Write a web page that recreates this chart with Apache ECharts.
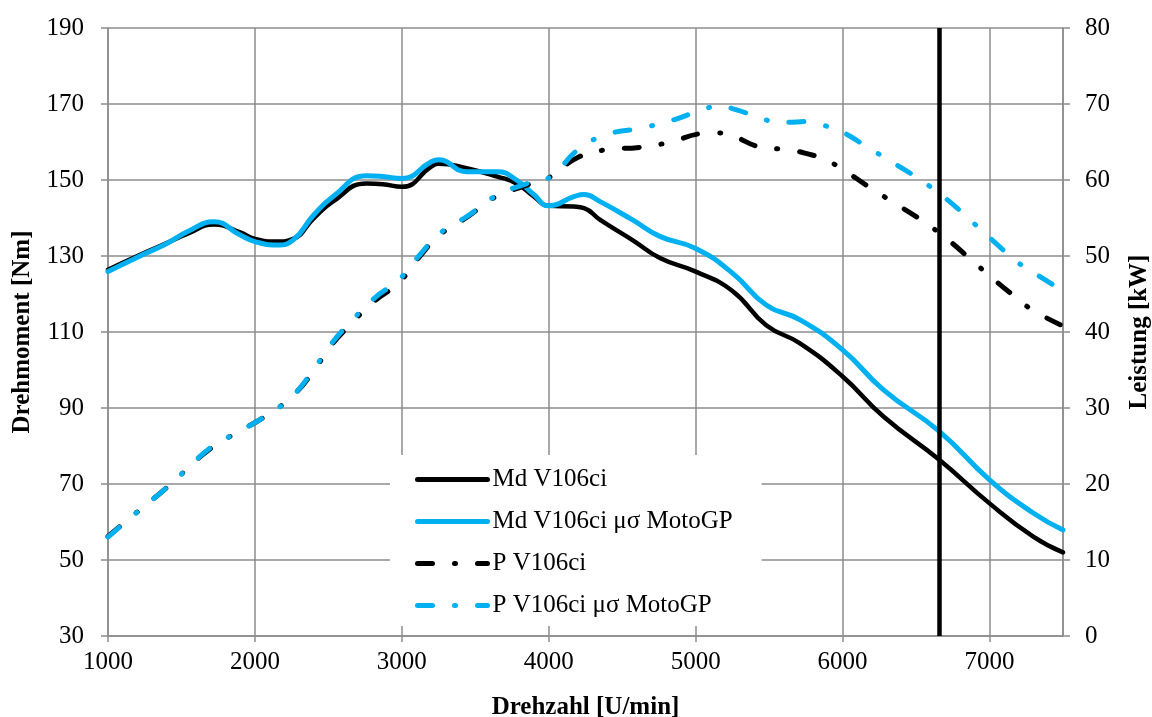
<!DOCTYPE html>
<html>
<head>
<meta charset="utf-8">
<script src="https://cdn.jsdelivr.net/npm/echarts@6/dist/echarts.min.js"></script>
<style>
  html, body { margin: 0; padding: 0; background: #fff; }
  #chart { width: 1152px; height: 717px; }
</style>
</head>
<body>
<div id="chart"></div>
<script>
// Drehmoment (Nm) über Drehzahl (U/min)
const rpmTorque = [1000, 1200, 1400, 1550, 1720, 1900, 2000, 2150, 2260, 2400, 2530, 2760, 2870, 3000, 3200, 3250, 3440, 3650, 3780, 3900, 4000, 4170, 4240, 4350, 4570, 4760, 5000, 5250, 5480, 5710, 6000, 6280, 6660, 7000, 7300, 7500];
const mdV106ci = [126.4, 130.0, 133.4, 136.0, 138.3, 136.2, 134.5, 133.8, 134.5, 139.9, 144.3, 149.1, 148.9, 148.2, 153.5, 154.3, 153.1, 150.9, 149.1, 145.6, 143.2, 143.0, 142.6, 139.5, 134.2, 129.4, 125.9, 120.8, 111.8, 107.0, 98.3, 87.7, 76.3, 64.9, 56.1, 52.0];
const mdMotoGP = [125.9, 129.7, 133.3, 136.6, 139.0, 135.5, 133.8, 132.9, 134.2, 140.8, 145.6, 151.1, 150.9, 150.4, 154.8, 155.3, 152.2, 152.2, 150.0, 146.1, 143.2, 145.6, 146.2, 144.3, 139.5, 135.1, 132.0, 125.5, 117.1, 113.2, 105.3, 94.7, 83.8, 71.1, 62.3, 57.9];

// Leistung (kW) über Drehzahl (U/min)
const rpmPower = [1000, 1210, 1380, 1540, 1700, 1890, 2070, 2250, 2390, 2510, 2660, 2810, 2980, 3120, 3260, 3450, 3630, 3830, 4010, 4200, 4400, 4620, 4830, 5040, 5150, 5250, 5450, 5560, 5660, 5770, 5870, 6000, 6170, 6350, 6530, 6700, 6870, 7030, 7190, 7300, 7500];
const pV106ci = [13.1, 16.5, 19.2, 22.0, 24.7, 26.9, 28.9, 31.5, 34.6, 38.0, 41.2, 44.0, 46.5, 49.9, 52.8, 55.2, 57.7, 59.2, 60.4, 63.0, 64.0, 64.3, 65.0, 66.1, 66.2, 65.8, 64.3, 64.1, 63.9, 63.4, 62.8, 61.4, 59.2, 57.0, 54.8, 52.4, 49.6, 46.9, 44.4, 42.8, 40.8];
const pMotoGP = [13.0, 16.5, 19.2, 22.0, 24.8, 26.9, 28.9, 31.5, 34.8, 38.2, 41.5, 44.4, 46.9, 50.1, 53.0, 55.3, 57.8, 59.4, 60.4, 64.0, 66.0, 66.8, 67.8, 69.2, 69.7, 69.4, 68.1, 67.6, 67.6, 67.7, 67.2, 66.3, 64.3, 62.2, 60.0, 57.6, 54.7, 51.9, 49.2, 47.8, 45.4];

// Markierte Drehzahl (senkrechte Linie)
const markRpm = 6660;

// Achsen
const xMin = 1000, xMax = 7500, xStep = 1000;
const yLeftMin = 30, yLeftMax = 190, yLeftStep = 20;
const yRightMin = 0, yRightMax = 80, yRightStep = 10;

const seriesNames = ['Md V106ci', 'Md V106ci \u03bc\u03c3 MotoGP', 'P V106ci', 'P V106ci \u03bc\u03c3 MotoGP'];

const BLACK = '#000000';
const BLUE = '#00B0F0';
const GRID = '#8c8c8c';
const FONT = "'Liberation Serif', 'Times New Roman', serif";
const DASHDOT = [15, 22, 1, 22];

const zip = (xs, ys) => xs.map((x, i) => [x, ys[i]]);
const plain = v => String(v);

const chart = echarts.init(document.getElementById('chart'), null, { renderer: 'canvas' });

chart.setOption({
  animation: false,
  backgroundColor: '#ffffff',
  textStyle: { fontFamily: FONT },
  grid: { left: 108, right: 89, top: 28, bottom: 81, containLabel: false, outerBoundsMode: 'none' },
  legend: {
    orient: 'vertical',
    left: 390,
    top: 455,
    backgroundColor: '#ffffff',
    padding: [12, 29, 8, 25],
    itemWidth: 70,
    itemHeight: 14,
    itemGap: 17,
    lineStyle: { width: 5, cap: 'round' },
    itemStyle: { opacity: 0 },
    textStyle: { fontFamily: FONT, fontSize: 25, color: '#000' },
    data: seriesNames,
    z: 10
  },
  xAxis: {
    type: 'value',
    min: xMin, max: xMax, interval: xStep,
    name: 'Drehzahl [U/min]',
    nameLocation: 'middle',
    nameGap: 59,
    nameTextStyle: { fontFamily: FONT, fontSize: 25, fontWeight: 'bold', color: '#000' },
    axisLine: { show: true, lineStyle: { color: GRID, width: 1.5 } },
    axisTick: { show: true, length: 6, inside: false, lineStyle: { color: GRID, width: 1.5 } },
    axisLabel: { fontFamily: FONT, fontSize: 25, color: '#000', margin: 14, showMaxLabel: false, formatter: plain },
    splitLine: { show: true, lineStyle: { color: GRID, width: 1.5 } }
  },
  yAxis: [
    {
      type: 'value',
      position: 'left',
      min: yLeftMin, max: yLeftMax, interval: yLeftStep,
      name: 'Drehmoment [Nm]',
      nameLocation: 'middle',
      nameRotate: 90,
      nameGap: 73,
      nameTextStyle: { fontFamily: FONT, fontSize: 25, fontWeight: 'bold', color: '#000' },
      axisLine: { show: true, lineStyle: { color: GRID, width: 1.5 } },
      axisTick: { show: true, length: 7, lineStyle: { color: GRID, width: 1.5 } },
      axisLabel: { fontFamily: FONT, fontSize: 25, color: '#000', margin: 24, formatter: plain },
      splitLine: { show: true, lineStyle: { color: GRID, width: 1.5 } }
    },
    {
      type: 'value',
      position: 'right',
      min: yRightMin, max: yRightMax, interval: yRightStep,
      name: 'Leistung [kW]',
      nameLocation: 'middle',
      nameRotate: 90,
      nameGap: 64,
      nameTextStyle: { fontFamily: FONT, fontSize: 25, fontWeight: 'bold', color: '#000' },
      axisLine: { show: true, lineStyle: { color: GRID, width: 1.5 } },
      axisTick: { show: true, length: 7, lineStyle: { color: GRID, width: 1.5 } },
      axisLabel: { fontFamily: FONT, fontSize: 25, color: '#000', margin: 22, formatter: plain },
      splitLine: { show: false }
    }
  ],
  series: [
    {
      name: seriesNames[0],
      type: 'line',
      yAxisIndex: 0,
      data: zip(rpmTorque, mdV106ci),
      smooth: 0.5,
      symbol: 'none',
      lineStyle: { color: BLACK, width: 4.5, cap: 'round' },
      itemStyle: { color: BLACK },
      z: 2
    },
    {
      name: seriesNames[1],
      type: 'line',
      yAxisIndex: 0,
      data: zip(rpmTorque, mdMotoGP),
      smooth: 0.5,
      symbol: 'none',
      lineStyle: { color: BLUE, width: 5, cap: 'round' },
      itemStyle: { color: BLUE },
      z: 3
    },
    {
      name: seriesNames[2],
      type: 'line',
      yAxisIndex: 1,
      data: zip(rpmPower, pV106ci),
      smooth: 0.5,
      symbol: 'none',
      lineStyle: { color: BLACK, width: 5, type: DASHDOT, cap: 'round' },
      itemStyle: { color: BLACK },
      z: 4
    },
    {
      name: seriesNames[3],
      type: 'line',
      yAxisIndex: 1,
      data: zip(rpmPower, pMotoGP),
      smooth: 0.5,
      symbol: 'none',
      lineStyle: { color: BLUE, width: 5, type: DASHDOT, cap: 'round' },
      itemStyle: { color: BLUE },
      z: 5,
      markLine: {
        silent: true,
        symbol: ['none', 'none'],
        label: { show: false },
        lineStyle: { color: BLACK, width: 4.5, type: 'solid' },
        data: [{ xAxis: markRpm }]
      }
    }
  ]
});
</script>
</body>
</html>
